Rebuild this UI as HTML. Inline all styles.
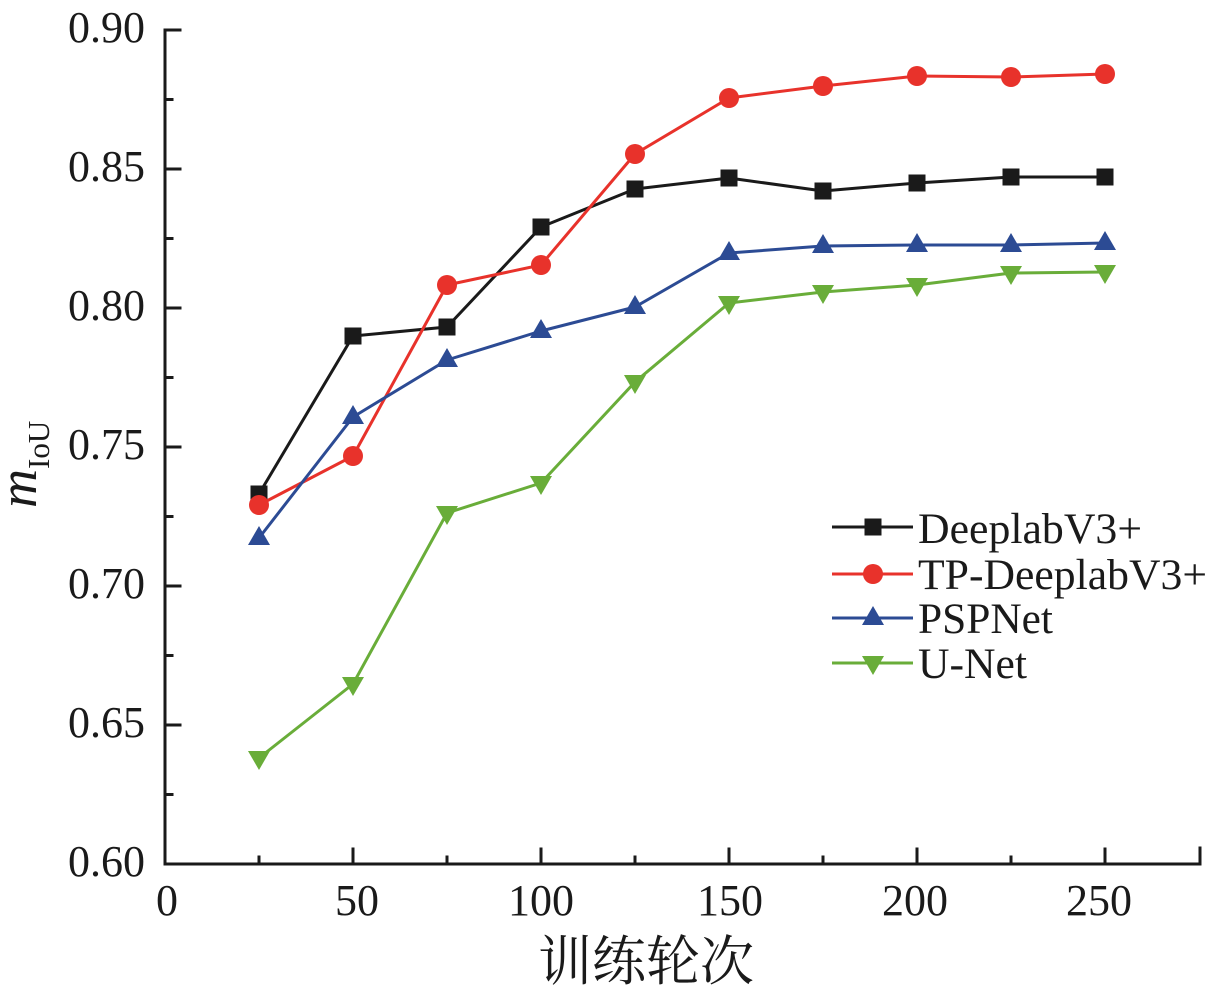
<!DOCTYPE html>
<html>
<head>
<meta charset="utf-8">
<style>
  html, body { margin: 0; padding: 0; background: #ffffff; }
  svg { display: block; }
  .tick { font-family: "Liberation Serif", serif; font-size: 44px; fill: #1a1a1a; }
  .leg { font-family: "Liberation Serif", serif; font-size: 43px; fill: #1a1a1a; }
</style>
</head>
<body>
<svg width="1224" height="996" viewBox="0 0 1224 996" xmlns="http://www.w3.org/2000/svg">
  <rect width="1224" height="996" fill="#ffffff"/>

  <!-- axes -->
  <g stroke="#1a1a1a" stroke-width="3" fill="none" stroke-linecap="square">
    <line x1="165" y1="30" x2="165" y2="864"/>
    <line x1="165" y1="864" x2="1200" y2="864"/>
    <!-- y major ticks -->
    <line x1="165" y1="30" x2="180" y2="30"/>
    <line x1="165" y1="169" x2="180" y2="169"/>
    <line x1="165" y1="308" x2="180" y2="308"/>
    <line x1="165" y1="447" x2="180" y2="447"/>
    <line x1="165" y1="586" x2="180" y2="586"/>
    <line x1="165" y1="725" x2="180" y2="725"/>
    <!-- y minor ticks -->
    <line x1="165" y1="99.5" x2="172" y2="99.5"/>
    <line x1="165" y1="238.5" x2="172" y2="238.5"/>
    <line x1="165" y1="377.5" x2="172" y2="377.5"/>
    <line x1="165" y1="516.5" x2="172" y2="516.5"/>
    <line x1="165" y1="655.5" x2="172" y2="655.5"/>
    <line x1="165" y1="794.5" x2="172" y2="794.5"/>
    <!-- x major ticks -->
    <line x1="353" y1="864" x2="353" y2="849"/>
    <line x1="541" y1="864" x2="541" y2="849"/>
    <line x1="729" y1="864" x2="729" y2="849"/>
    <line x1="917" y1="864" x2="917" y2="849"/>
    <line x1="1105" y1="864" x2="1105" y2="849"/>
    <line x1="1200" y1="864" x2="1200" y2="848"/>
    <!-- x minor ticks -->
    <line x1="259" y1="864" x2="259" y2="857"/>
    <line x1="447" y1="864" x2="447" y2="857"/>
    <line x1="635" y1="864" x2="635" y2="857"/>
    <line x1="823" y1="864" x2="823" y2="857"/>
    <line x1="1011" y1="864" x2="1011" y2="857"/>
  </g>

  <!-- y tick labels -->
  <g class="tick" text-anchor="end">
    <text x="145" y="42">0.90</text>
    <text x="145" y="181">0.85</text>
    <text x="145" y="320">0.80</text>
    <text x="145" y="459">0.75</text>
    <text x="145" y="598">0.70</text>
    <text x="145" y="737">0.65</text>
    <text x="145" y="876">0.60</text>
  </g>

  <!-- x tick labels -->
  <g class="tick" text-anchor="middle">
    <text x="167" y="915">0</text>
    <text x="357" y="915">50</text>
    <text x="541" y="915">100</text>
    <text x="730" y="915">150</text>
    <text x="915" y="915">200</text>
    <text x="1099" y="915">250</text>
  </g>

  <!-- axis titles -->
  <text x="646" y="980" text-anchor="middle" font-family="'Liberation Serif', 'Noto Serif CJK SC', serif" font-size="54" fill="#1a1a1a">训练轮次</text>
  <text transform="translate(36,508) rotate(-90)" font-family="'Liberation Serif', serif" fill="#1a1a1a"><tspan font-size="54" font-style="italic">m</tspan><tspan font-size="31" dy="13">IoU</tspan></text>

  <!-- series lines -->
  <g fill="none" stroke-width="3" stroke-linejoin="round">
    <polyline stroke="#1a1a1a" points="259,494 353,336 447,327 541,227 635,189 729,178 823,191 917,183 1011,177 1105,177"/>
  </g>
  <g fill="#1a1a1a">
    <rect x="250.5" y="485.5" width="17" height="17"/>
    <rect x="344.5" y="327.5" width="17" height="17"/>
    <rect x="438.5" y="318.5" width="17" height="17"/>
    <rect x="532.5" y="218.5" width="17" height="17"/>
    <rect x="626.5" y="180.5" width="17" height="17"/>
    <rect x="720.5" y="169.5" width="17" height="17"/>
    <rect x="814.5" y="182.5" width="17" height="17"/>
    <rect x="908.5" y="174.5" width="17" height="17"/>
    <rect x="1002.5" y="168.5" width="17" height="17"/>
    <rect x="1096.5" y="168.5" width="17" height="17"/>
  </g>

  <polyline fill="none" stroke="#e8322b" stroke-width="3" stroke-linejoin="round" points="259,505 353,456 447,285 541,265 635,154 729,98 823,86 917,76 1011,77 1105,74"/>
  <g fill="#e8322b">
    <circle cx="259" cy="505" r="10"/>
    <circle cx="353" cy="456" r="10"/>
    <circle cx="447" cy="285" r="10"/>
    <circle cx="541" cy="265" r="10"/>
    <circle cx="635" cy="154" r="10"/>
    <circle cx="729" cy="98" r="10"/>
    <circle cx="823" cy="86" r="10"/>
    <circle cx="917" cy="76" r="10"/>
    <circle cx="1011" cy="77" r="10"/>
    <circle cx="1105" cy="74" r="10"/>
  </g>

  <polyline fill="none" stroke="#2c4b94" stroke-width="3" stroke-linejoin="round" points="259,538 353,417 447,360 541,331 635,307 729,253 823,246 917,245 1011,245 1105,243"/>
  <g fill="#2c4b94">
    <polygon points="259,526 248,545 270,545"/>
    <polygon points="353,405 342,424 364,424"/>
    <polygon points="447,348 436,367 458,367"/>
    <polygon points="541,319 530,338 552,338"/>
    <polygon points="635,295 624,314 646,314"/>
    <polygon points="729,241 718,260 740,260"/>
    <polygon points="823,234 812,253 834,253"/>
    <polygon points="917,233 906,252 928,252"/>
    <polygon points="1011,233 1000,252 1022,252"/>
    <polygon points="1105,231 1094,250 1116,250"/>
  </g>

  <polyline fill="none" stroke="#69ad39" stroke-width="3" stroke-linejoin="round" points="259,758 353,684 447,513 541,483 635,382 729,303 823,292 917,285 1011,273 1105,272"/>
  <g fill="#69ad39">
    <polygon points="248,751 270,751 259,770"/>
    <polygon points="342,677 364,677 353,696"/>
    <polygon points="436,506 458,506 447,525"/>
    <polygon points="530,476 552,476 541,495"/>
    <polygon points="624,375 646,375 635,394"/>
    <polygon points="718,296 740,296 729,315"/>
    <polygon points="812,285 834,285 823,304"/>
    <polygon points="906,278 928,278 917,297"/>
    <polygon points="1000,266 1022,266 1011,285"/>
    <polygon points="1094,265 1116,265 1105,284"/>
  </g>

  <!-- legend -->
  <g stroke-width="3">
    <line x1="832" y1="527" x2="913" y2="527" stroke="#1a1a1a"/>
    <line x1="832" y1="574" x2="913" y2="574" stroke="#e8322b"/>
    <line x1="832" y1="618" x2="913" y2="618" stroke="#2c4b94"/>
    <line x1="832" y1="663" x2="913" y2="663" stroke="#69ad39"/>
  </g>
  <rect x="864.5" y="518.5" width="17" height="17" fill="#1a1a1a"/>
  <circle cx="873" cy="574" r="10" fill="#e8322b"/>
  <polygon points="873,606 862,625 884,625" fill="#2c4b94"/>
  <polygon points="862,656 884,656 873,675" fill="#69ad39"/>
  <g class="leg">
    <text x="918" y="543" textLength="224" lengthAdjust="spacingAndGlyphs">DeeplabV3+</text>
    <text x="918" y="589" textLength="289" lengthAdjust="spacingAndGlyphs">TP-DeeplabV3+</text>
    <text x="918" y="633" textLength="135" lengthAdjust="spacingAndGlyphs">PSPNet</text>
    <text x="918" y="678" textLength="109" lengthAdjust="spacingAndGlyphs">U-Net</text>
  </g>
</svg>
</body>
</html>
